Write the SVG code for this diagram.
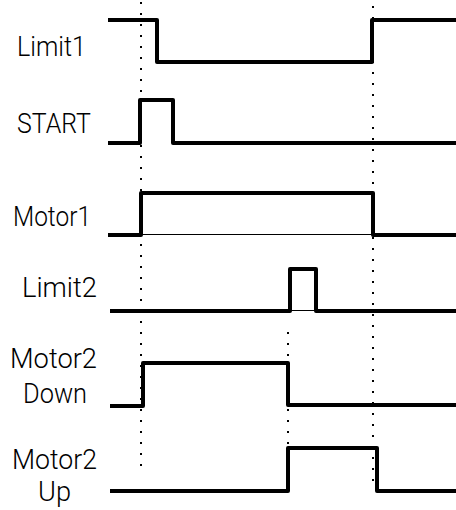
<svg xmlns="http://www.w3.org/2000/svg" width="456" height="510" viewBox="0 0 456 510">
  <style>
    .lbl { font-family: Roboto, "Liberation Sans", Arial, sans-serif; font-weight: 300; font-size: 28px; fill: #000; text-anchor: middle; }
    .wave { fill: none; stroke: #000; stroke-width: 4; stroke-linejoin: round; stroke-linecap: butt; }
    .base { fill: none; stroke: #000; stroke-width: 1; }
    .dot { fill: none; stroke: #000; stroke-width: 2; stroke-linecap: butt; stroke-dasharray: 2 9; }
  </style>
  <rect width="456" height="510" fill="#fff"/>
  <g id="connectors">
    <line class="dot" x1="141" y1="2" x2="141" y2="470"/>
    <line class="dot" x1="373" y1="6" x2="373" y2="484"/>
    <line class="dot" x1="288" y1="332" x2="288" y2="446"/>
  </g>
  <g id="limit1">
    <text class="lbl" x="51.5" y="56" textLength="69" lengthAdjust="spacingAndGlyphs">Limit1</text>
    <path class="wave" d="M108,20 H157 V62 H372 V20 H456"/>
  </g>
  <g id="start">
    <text class="lbl" x="54" y="133" textLength="74" lengthAdjust="spacingAndGlyphs">START</text>
    <path class="wave" d="M108,143 H140 V100 H173 V143 H456"/>
  </g>
  <g id="motor1">
    <text class="lbl" x="52" y="226" textLength="78" lengthAdjust="spacingAndGlyphs">Motor1</text>
    <line class="base" x1="141" y1="234.5" x2="373" y2="234.5"/>
    <path class="wave" d="M108,235 H141 V193 H373 V235 H456"/>
  </g>
  <g id="limit2">
    <text class="lbl" x="59.5" y="297" textLength="75" lengthAdjust="spacingAndGlyphs">Limit2</text>
    <line class="base" x1="290" y1="310.5" x2="316" y2="310.5"/>
    <path class="wave" d="M110,311 H290 V269 H316 V311 H456"/>
  </g>
  <g id="motor2down">
    <text class="lbl" x="53.5" y="368" textLength="87" lengthAdjust="spacingAndGlyphs">Motor2</text>
    <text class="lbl" x="55" y="403" textLength="64" lengthAdjust="spacingAndGlyphs">Down</text>
    <path class="wave" d="M110,406 H143 V363 H288 V405 H456"/>
  </g>
  <g id="motor2up">
    <text class="lbl" x="54.5" y="469" textLength="85" lengthAdjust="spacingAndGlyphs">Motor2</text>
    <text class="lbl" x="54.5" y="501" textLength="33" lengthAdjust="spacingAndGlyphs">Up</text>
    <path class="wave" d="M110,491 H288 V448 H377 V491 H456"/>
  </g>
</svg>
